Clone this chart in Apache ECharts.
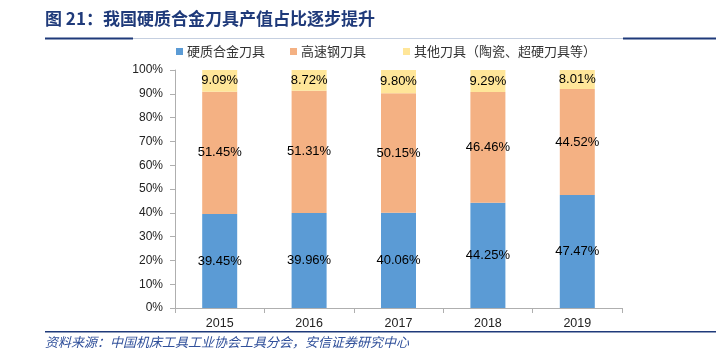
<!DOCTYPE html>
<html>
<head>
<meta charset="utf-8">
<script src="https://cdn.jsdelivr.net/npm/echarts@6/dist/echarts.min.js"></script>
<style>
html,body{margin:0;padding:0;background:#fff;}
#c{width:716px;height:362px;}
</style>
</head>
<body>
<div id="c"></div>
<script>
const categories = ['2015', '2016', '2017', '2018', '2019'];
const hardAlloy = [39.45, 39.96, 40.06, 44.25, 47.47];
const highSpeedSteel = [51.45, 51.31, 50.15, 46.46, 44.52];
const otherTools = [9.09, 8.72, 9.80, 9.29, 8.01];
const seriesNames = ['硬质合金刀具', '高速钢刀具', '其他刀具（陶瓷、超硬刀具等）'];
const yTicks = [0, 10, 20, 30, 40, 50, 60, 70, 80, 90, 100];
const titlePrefix = '图 21：';
const titleMain = '我国硬质合金刀具产值占比逐步提升';
const sourceText = '资料来源：中国机床工具工业协会工具分会，安信证券研究中心';

const colors = ['#5B9BD5', '#F4B183', '#FFE699'];
const cjk = '"Noto Sans CJK SC", sans-serif';
const lat = '"Liberation Sans", Arial, sans-serif';

const chart = echarts.init(document.getElementById('c'), null, {renderer: 'canvas'});

function mkSeries(name, data, color) {
  return {
    name: name,
    type: 'bar',
    stack: 'total',
    barWidth: 35,
    data: data,
    itemStyle: {color: color},
    label: {
      show: true,
      position: 'inside',
      color: '#000',
      fontSize: 13,
      fontFamily: lat,
      formatter: p => p.value.toFixed(2) + '%'
    }
  };
}

function mkLegend(name, left) {
  return {
    left: left,
    top: 40,
    icon: 'rect',
    itemWidth: 7,
    itemHeight: 7,
    textStyle: {fontFamily: cjk, fontSize: 13, color: '#333', padding: [0, 0, 0, -1]},
    data: [name]
  };
}

chart.setOption({
  animation: false,
  color: colors,
  grid: {left: 175, right: 94, top: 70, bottom: 54, containLabel: false},
  legend: [
    mkLegend(seriesNames[0], 171),
    mkLegend(seriesNames[1], 285),
    mkLegend(seriesNames[2], 398)
  ],
  xAxis: {
    type: 'category',
    data: categories,
    axisLine: {lineStyle: {color: '#AFAFAF', width: 1}},
    axisTick: {show: true, length: 5, alignWithLabel: false, lineStyle: {color: '#AFAFAF'}},
    axisLabel: {color: '#222', fontSize: 12.5, fontFamily: lat, margin: 9}
  },
  yAxis: {
    type: 'value',
    min: 0,
    max: 100,
    interval: 10,
    axisLine: {show: true, lineStyle: {color: '#AFAFAF', width: 1}},
    axisTick: {show: true, length: 5, lineStyle: {color: '#AFAFAF'}},
    splitLine: {show: false},
    axisLabel: {
      color: '#222', fontSize: 12, fontFamily: lat, margin: 12,
      formatter: v => yTicks.includes(v) ? v + '%' : ''
    }
  },
  series: [
    mkSeries(seriesNames[0], hardAlloy, colors[0]),
    mkSeries(seriesNames[1], highSpeedSteel, colors[1]),
    mkSeries(seriesNames[2], otherTools, colors[2])
  ],
  graphic: [
    {type: 'text', left: 45, top: 10,
     style: {text: titlePrefix, fontFamily: cjk, fontWeight: 'bold', fontSize: 17, fill: '#1F3A7A'}},
    {type: 'text', left: 103, top: 10,
     style: {text: titleMain, fontFamily: cjk, fontWeight: 'bold', fontSize: 17, fill: '#1F3A7A'}},
    {type: 'rect', shape: {x: 133, y: 38, width: 490, height: 1}, style: {fill: '#C5CFE0'}},
    {type: 'rect', shape: {x: 45, y: 37.5, width: 88, height: 2}, style: {fill: '#1F3A7A'}},
    {type: 'rect', shape: {x: 623, y: 37.5, width: 93, height: 2}, style: {fill: '#1F3A7A'}},
    {type: 'rect', shape: {x: 45, y: 331, width: 671, height: 1.5}, style: {fill: '#1F3A7A'}},
    {type: 'text', left: 45, top: 336,
     style: {text: sourceText, fontFamily: cjk, fontStyle: 'italic', fontSize: 13, fill: '#2F4F9A'}}
  ]
});
</script>
</body>
</html>
